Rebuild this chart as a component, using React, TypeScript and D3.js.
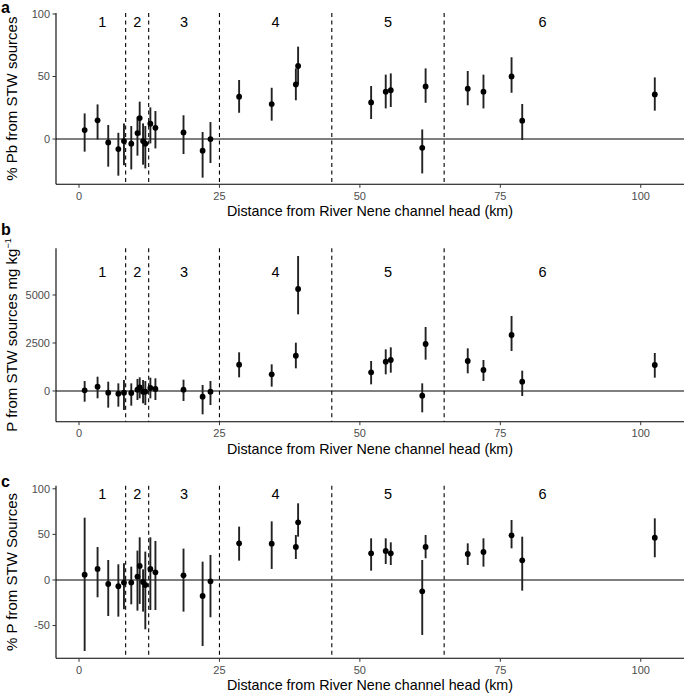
import React from "react";
import * as d3 from "d3";

const distance = [1.0, 3.3, 5.2, 7.0, 8.0, 9.3, 10.4, 10.8, 11.4, 11.8, 12.7, 13.6, 18.6, 22.0, 23.4, 28.5, 34.3, 38.6, 39.0, 52.0, 54.6, 55.5, 61.1, 61.7, 69.2, 72.0, 77.0, 78.9, 102.5];

const pbMean = [7.2, 15, -2.7, -8, -1.6, -3.7, 4.8, 16.8, -1.6, -3.7, 12.3, 9, 5.3, -9.3, 0, 33.9, 28, 43.7, 58.4, 29.3, 37.9, 39, -7, 42.1, 40.3, 37.9, 50.1, 14.7, 35.7];
const pbLow = [-10.1, -0.3, -22.1, -29.3, -21, -24.3, -13.3, 2.9, -20.5, -23.5, -3.5, -7.5, -12, -30.9, -19.2, 21, 14.7, 31, 43.7, 16, 24.5, 25.6, -27.5, 29, 27, 24.5, 37, -0.8, 22.7];
const pbHigh = [20.5, 27.7, 11.2, 5, 12.5, 10.4, 17.8, 29.9, 12.5, 10.4, 25.3, 22.4, 19, 5.6, 13.6, 47.2, 41, 56.5, 73.9, 42.4, 51.5, 52.5, 7.7, 56.5, 54.4, 51.5, 65.4, 28, 49.3];

const pMean = [35, 226, -87, -139, -87, -104, 69, 191, -35, -35, 156, 104, 69, -295, -35, 1371, 868, 1840, 5313, 972, 1528, 1615, -243, 2448, 1562, 1094, 2917, 486, 1354];
const pLow = [-557, -381, -868, -816, -990, -764, -469, -382, -642, -729, -382, -469, -521, -1215, -729, 712, 226, 1181, 3993, 347, 868, 955, -1111, 1632, 920, 521, 2083, -260, 694];
const pHigh = [521, 745, 485, 399, 573, 399, 625, 712, 573, 521, 694, 660, 590, 312, 521, 2014, 1389, 2517, 7031, 1562, 2170, 2274, 399, 3333, 2222, 1615, 3906, 1059, 1979];

const pctMean = [5.8, 12.1, -4.4, -6.9, -2.9, -2.9, 3.7, 15.4, -2.2, -5.5, 12.1, 8.4, 5.1, -17.5, -1.5, 40.2, 39.8, 36.2, 63.2, 29.2, 31.8, 29.2, -12.4, 36.2, 28.5, 30.7, 49, 21.6, 46.4];
const pctLow = [-77.9, -19, -39.5, -40.2, -32.1, -26.7, -33.6, -26.3, -34.7, -54.1, -32.9, -32.9, -34.7, -72.4, -40.9, 21.2, 12.1, 23, 47.5, 10.2, 17.5, 16.4, -60.3, 23.8, 16.4, 14.6, 34.7, -11.7, 24.9];
const pctHigh = [68.3, 36.2, 21.9, 17.2, 18.3, 14.6, 32.2, 46.8, 11.7, 31.1, 46.8, 42.8, 34.4, 20.1, 27.4, 58.5, 64.3, 49.3, 84.1, 45.7, 45.7, 41.3, 21.9, 49.3, 40.2, 45.7, 65.8, 47.5, 67.6];

const reachBreaks = [8.3, 12.4, 25, 45, 65];
const reachLabels = ["1", "2", "3", "4", "5", "6"];
const reachLabelX = [4.15, 10.35, 18.7, 35, 55, 82.5];

const xTicks = [0, 25, 50, 75, 100];
const xDomain = [-4.1, 107.7];

const pbTicks = [0, 50, 100];
const pTicks = [0, 2500, 5000];
const pctTicks = [-50, 0, 50, 100];

const xTitle = "Distance from River Nene channel head (km)";

const FONT = "'Liberation Sans', Arial, Helvetica, sans-serif";
const W = 685;
const H = 693;
const LEFT = 56;
const RIGHT = 684;

type PanelProps = {
  letter: string;
  letterY: number;
  top: number;
  bottom: number;
  yDomain: number[];
  yTicks: number[];
  labelY: number;
  mean: number[];
  low: number[];
  high: number[];
  yTitle: React.ReactNode;
};

function Panel(p: PanelProps) {
  const x = d3.scaleLinear().domain(xDomain).range([LEFT, RIGHT]);
  const y = d3.scaleLinear().domain(p.yDomain).range([p.bottom, p.top]);
  const midY = (p.top + p.bottom) / 2;
  return (
    <g>
      <text x={1} y={p.letterY} fontFamily={FONT} fontWeight="bold" fontSize={16} fill="#000">
        {p.letter}
      </text>
      <line x1={LEFT} x2={RIGHT} y1={y(0)} y2={y(0)} stroke="#000" strokeWidth={1.1} />
      {reachBreaks.map((b, i) => (
        <line key={i} x1={x(b)} x2={x(b)} y1={p.top} y2={p.bottom} stroke="#000" strokeWidth={1.1} strokeDasharray="4,3.5" />
      ))}
      {reachLabels.map((l, i) => (
        <text key={i} x={x(reachLabelX[i])} y={y(p.labelY)} dy="0.35em" textAnchor="middle" fontFamily={FONT} fontSize={14.5} fill="#000">
          {l}
        </text>
      ))}
      {distance.map((d, i) => (
        <line key={"e" + i} x1={x(d)} x2={x(d)} y1={y(p.low[i])} y2={y(p.high[i])} stroke="#222" strokeWidth={1.9} />
      ))}
      {distance.map((d, i) => (
        <circle key={"c" + i} cx={x(d)} cy={y(p.mean[i])} r={2.9} fill="#000" />
      ))}
      <line x1={LEFT} x2={LEFT} y1={p.top} y2={p.bottom} stroke="#000" strokeWidth={1.1} />
      <line x1={LEFT} x2={RIGHT} y1={p.bottom} y2={p.bottom} stroke="#000" strokeWidth={1.1} />
      {p.yTicks.map((t) => (
        <g key={"y" + t}>
          <line x1={LEFT - 3.5} x2={LEFT} y1={y(t)} y2={y(t)} stroke="#333" strokeWidth={1} />
          <text x={LEFT - 6} y={y(t)} dy="0.35em" textAnchor="end" fontFamily={FONT} fontSize={11} fill="#4d4d4d">
            {t}
          </text>
        </g>
      ))}
      {xTicks.map((t) => (
        <g key={"x" + t}>
          <line x1={x(t)} x2={x(t)} y1={p.bottom} y2={p.bottom + 3.5} stroke="#333" strokeWidth={1} />
          <text x={x(t)} y={p.bottom + 15.5} textAnchor="middle" fontFamily={FONT} fontSize={11} fill="#4d4d4d">
            {t}
          </text>
        </g>
      ))}
      <text x={(LEFT + RIGHT) / 2} y={p.bottom + 32} textAnchor="middle" fontFamily={FONT} fontSize={14.3} fill="#000">
        {xTitle}
      </text>
      <text transform={`translate(17,${midY}) rotate(-90)`} textAnchor="middle" fontFamily={FONT} fontSize={15} fill="#000">
        {p.yTitle}
      </text>
    </g>
  );
}

export default function App() {
  return (
    <svg width={W} height={H} style={{ position: "absolute", left: 0, top: 0, background: "#fff" }}>
      <rect width={W} height={H} fill="#fff" />
      <Panel letter="a" letterY={12.5} top={13} bottom={184.3} yDomain={[-36.2, 100.8]} yTicks={pbTicks} labelY={93.6}
        mean={pbMean} low={pbLow} high={pbHigh} yTitle="% Pb from STW sources" />
      <Panel letter="b" letterY={235} top={248.3} bottom={421.7} yDomain={[-1599, 7432]} yTicks={pTicks} labelY={6214}
        mean={pMean} low={pLow} high={pHigh}
        yTitle={<>P from STW sources mg kg<tspan fontSize={9} dy={-6}>−1</tspan></>} />
      <Panel letter="c" letterY={487} top={485.7} bottom={658.3} yDomain={[-85.9, 103.4]} yTicks={pctTicks} labelY={94}
        mean={pctMean} low={pctLow} high={pctHigh} yTitle="% P from STW Sources" />
    </svg>
  );
}
